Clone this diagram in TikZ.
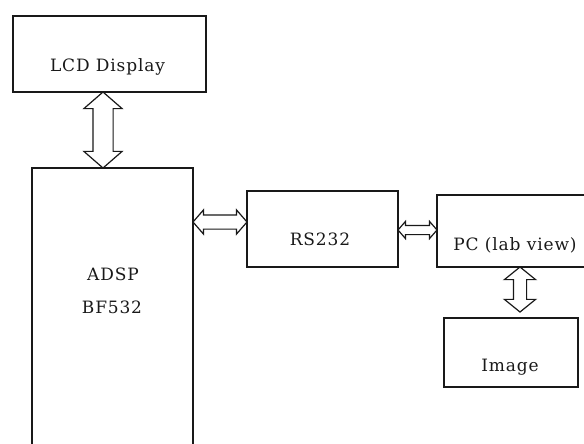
\documentclass[tikz,border=0pt]{standalone}
\usepackage{fontspec}
\setmainfont{DejaVu Serif}[LetterSpace=5]
\usepackage{tikz}
\usetikzlibrary{shapes.arrows,calc}

\begin{document}
\begin{tikzpicture}[x=1pt,y=-1pt,
  blk/.style={draw=black!90,line width=1.6pt,rectangle,inner sep=0pt,outer sep=0pt},
  txt/.style={anchor=base,text=black!90,inner sep=0pt,font=\fontsize{17}{20}\selectfont},
  dblarr/.style={shape=double arrow,draw=black!90,fill=white,line width=1.2pt,
    inner xsep=0pt,outer sep=0pt,minimum width=0pt,double arrow tip angle=98}]
  \path[use as bounding box] (0,0) rectangle (584,444);
  \clip (0,0) rectangle (584,444);

  % blocks
  \node[blk,minimum width=193pt,minimum height=76pt] (lcd) at (109.5,54) {};
  \node[blk,minimum width=161pt,minimum height=292pt] (adsp) at (112.5,314) {};
  \node[blk,minimum width=151pt,minimum height=76pt] (rs) at (322.5,229) {};
  \node[blk,minimum width=163pt,minimum height=72pt] (pc) at (518.5,231) {};
  \node[blk,minimum width=134pt,minimum height=69pt] (img) at (511,352.5) {};

  \node[txt] (lcdtxt) at (107.5,71) {LCD Display};
  \node[txt] (adsptxt) at (113,280) {ADSP};
  \node[txt] (bftxt) at (112,313) {BF532};
  \node[txt] (rstxt) at (320,245) {RS232};
  \node[txt] (pctxt) at (515,250) {PC (lab view)};
  \node[txt] (imgtxt) at (510,371) {Image};

  % links
  \node[dblarr,rotate=90,inner ysep=9.5pt,double arrow head extend=9pt,
    minimum height=76pt] (a1) at ($(lcd.south)!.5!(adsp.north)+(-8,0)$) {};
  \node[dblarr,inner ysep=6.5pt,double arrow head extend=5pt,
    minimum height=54pt] (a2) at ($(rs.west)!.5!(rs.west -| adsp.east)+(0,-7)$) {};
  \node[dblarr,inner ysep=4pt,double arrow head extend=4pt,
    minimum height=39pt] (a3) at ($(rs.east)!.5!(pc.west)$) {};
  \node[dblarr,rotate=90,inner ysep=6pt,double arrow head extend=9pt,
    minimum height=45pt,double arrow tip angle=102] (a4) at ($(pc.south)+(1.5,22.5)$) {};
\end{tikzpicture}
\end{document}
